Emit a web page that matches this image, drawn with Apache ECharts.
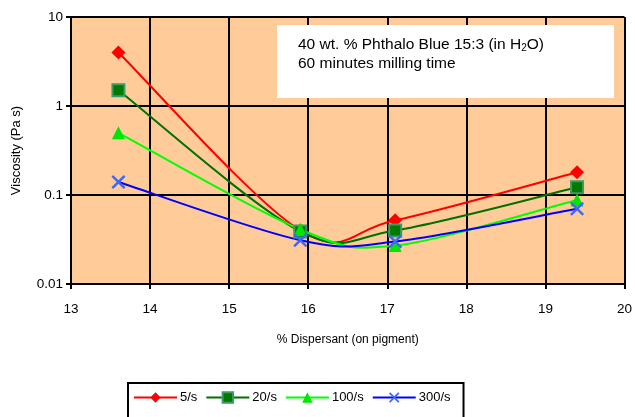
<!DOCTYPE html>
<html><head><meta charset="utf-8">
<script src="https://cdn.jsdelivr.net/npm/echarts@6/dist/echarts.min.js"></script>
<style>html,body{margin:0;padding:0;background:#fff}#c{width:635px;height:417px}</style>
</head><body><div id="c"></div>
<script>
const dispersant = [13.6, 15.9, 17.1, 19.4];
const rate5 = [4.0, 0.040, 0.052, 0.18];
const rate20 = [1.5, 0.039, 0.040, 0.122];
const rate100 = [0.5, 0.041, 0.027, 0.088];
const rate300 = [0.14, 0.031, 0.030, 0.070];
const seriesNames = ['5/s', '20/s', '100/s', '300/s'];
const xTicks = [13, 14, 15, 16, 17, 18, 19, 20];
const yTicks = [0.01, 0.1, 1, 10];

const FONT = 'Liberation Sans, Arial, sans-serif';
const xPath = 'path://M0,1.2L1.2,0L5,3.8L8.8,0L10,1.2L6.2,5L10,8.8L8.8,10L5,6.2L1.2,10L0,8.8L3.8,5Z';
function pairs(v){ return dispersant.map((x,i)=>[x, v[i]]); }

// Excel-like smoothed curve (Catmull-Rom Bezier) drawn in pixel space through the chart's scales
function curveSeries(values, color){
  const data = pairs(values);
  return {
    type:'custom', data:data, silent:true, clip:true, z:2,
    encode:{x:0, y:1},
    renderItem:function(params, api){
      if (params.dataIndex !== 0) return null;
      const p = data.map(d => api.coord(d));
      const n = p.length;
      let d = 'M' + p[0][0] + ',' + p[0][1];
      for (let i = 0; i < n - 1; i++) {
        const a = p[Math.max(i-1,0)], b = p[i], c = p[i+1], e = p[Math.min(i+2,n-1)];
        const c1 = [b[0] + (c[0]-a[0])/6, b[1] + (c[1]-a[1])/6];
        const c2 = [c[0] - (e[0]-b[0])/6, c[1] - (e[1]-b[1])/6];
        d += ' C' + c1[0] + ',' + c1[1] + ' ' + c2[0] + ',' + c2[1] + ' ' + c[0] + ',' + c[1];
      }
      return {type:'path', shape:{pathData:d}, style:{fill:null, stroke:color, lineWidth:2}};
    }
  };
}
function markerSeries(name, values, symbol, size, lineColor, itemStyle){
  return {name:name, type:'line', data:pairs(values), symbol:symbol, symbolSize:size,
    showAllSymbol:true, z:3,
    lineStyle:{color:lineColor, width:2, opacity:0}, itemStyle:itemStyle};
}
const lineColors = ['#FF0000', '#007000', '#00FF00', '#0000FF'];

const chart = echarts.init(document.getElementById('c'), null, {renderer:'canvas'});
chart.setOption({
  animation:false,
  backgroundColor:'#ffffff',
  grid:{left:71, right:9, top:17, bottom:133, show:true, backgroundColor:'#FFCC99', borderWidth:0},
  xAxis:{
    type:'value', min:xTicks[0], max:xTicks[xTicks.length-1], interval:1,
    name:'% Dispersant (on pigment)', nameLocation:'middle', nameGap:50,
    nameTextStyle:{fontFamily:FONT, fontSize:12, color:'#000'},
    axisLine:{show:true, onZero:false, lineStyle:{color:'#000', width:2}},
    axisTick:{show:true, length:5, lineStyle:{color:'#000', width:2}},
    axisLabel:{fontFamily:FONT, fontSize:13.5, color:'#000', margin:18},
    splitLine:{show:true, lineStyle:{color:'#000', width:2}}
  },
  yAxis:{
    type:'log', logBase:10, min:yTicks[0], max:yTicks[yTicks.length-1],
    name:'Viscosity (Pa s)', nameLocation:'middle', nameGap:48, nameRotate:90,
    nameTextStyle:{fontFamily:FONT, fontSize:13, color:'#000'},
    axisLine:{show:true, lineStyle:{color:'#000', width:2}},
    axisTick:{show:true, length:5, lineStyle:{color:'#000', width:2}},
    axisLabel:{fontFamily:FONT, fontSize:13.5, color:'#000', margin:8,
      formatter:function(v){ return String(+v.toPrecision(3)); }},
    splitLine:{show:true, lineStyle:{color:'#000', width:2}},
    minorTick:{show:false}
  },
  legend:{
    left:128, top:383, orient:'horizontal',
    data:seriesNames.map((n,i)=>({name:n, lineStyle:{color:lineColors[i], width:2, opacity:1}})),
    itemWidth:43, itemHeight:13, itemGap:8,
    borderColor:'#000', borderWidth:2, padding:[8,13,14,5],
    textStyle:{fontFamily:FONT, fontSize:13, color:'#000', padding:[0,0,0,-2]}
  },
  series:[
    curveSeries(rate5, lineColors[0]),
    curveSeries(rate20, lineColors[1]),
    curveSeries(rate100, lineColors[2]),
    curveSeries(rate300, lineColors[3]),
    markerSeries(seriesNames[0], rate5, 'diamond', 14, lineColors[0], {color:'#FF0000'}),
    markerSeries(seriesNames[1], rate20, 'rect', 12, lineColors[1], {color:'#007A00', borderColor:'#3E9A66', borderWidth:2}),
    markerSeries(seriesNames[2], rate100, 'triangle', 13, lineColors[2], {color:'#00E600'}),
    markerSeries(seriesNames[3], rate300, xPath, 14, lineColors[3], {color:'#3D66FF'})
  ],
  graphic:[
    {type:'rect', left:277, top:25, shape:{width:337, height:73}, style:{fill:'#fff'}, z:10},
    {type:'text', left:298, top:35, z:11, style:{
      text:'40 wt. % Phthalo Blue 15:3 (in H{sub|2}O)\n60 minutes milling time',
      font:'15.5px ' + FONT, fill:'#000', lineHeight:19,
      rich:{sub:{fontSize:10, fontFamily:FONT, fill:'#000', padding:[8,0,0,0], lineHeight:19}}
    }}
  ]
});
</script></body></html>
